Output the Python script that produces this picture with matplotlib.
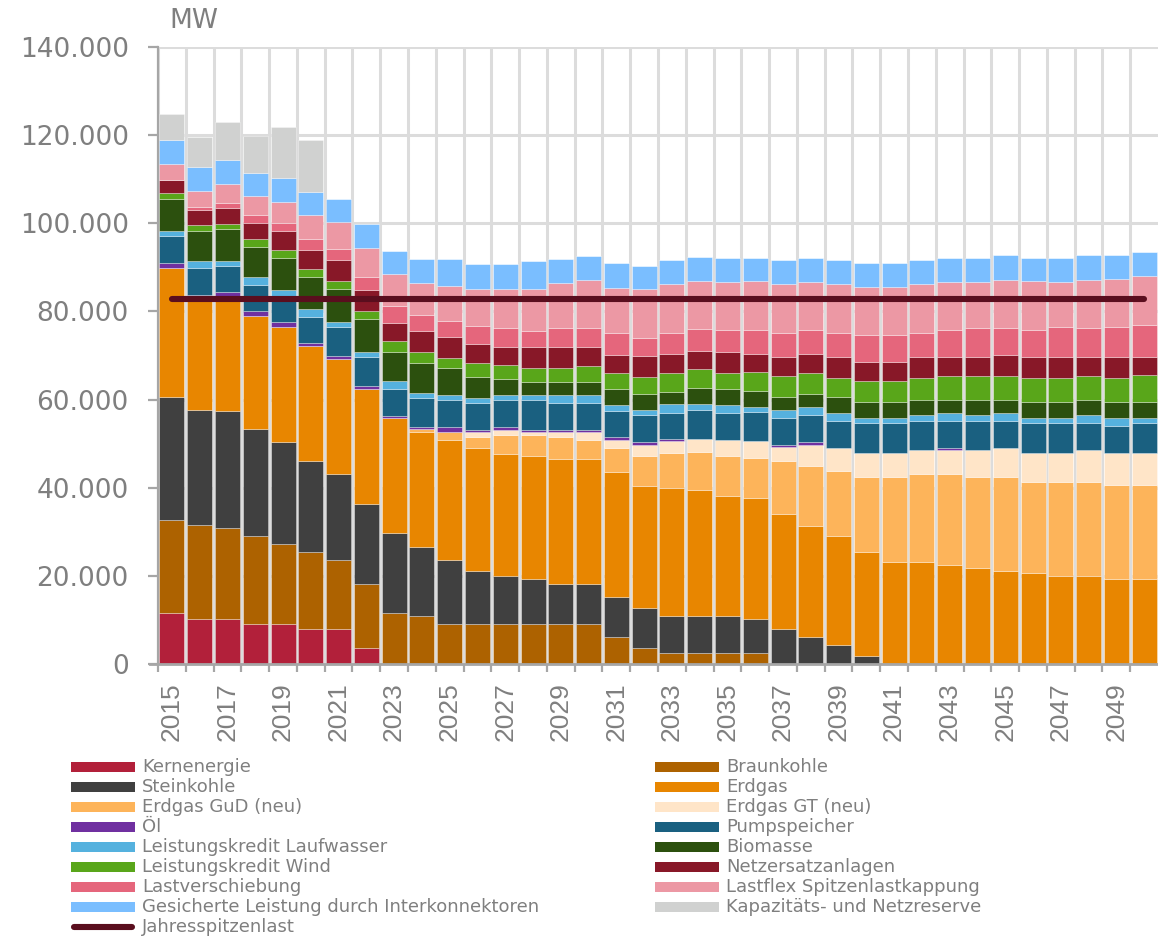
import matplotlib
matplotlib.use("Agg")
import matplotlib.pyplot as plt
from matplotlib.patches import Rectangle
from matplotlib.ticker import FuncFormatter, MultipleLocator, FixedLocator
import numpy as np

plt.rcParams['font.family'] = ['Liberation Sans', 'DejaVu Sans']
# the reference text is rather wide, DejaVu comes closer for the legend and y labels
wide_font = ['DejaVu Sans']

# Years on the x axis
years = list(range(2015, 2051))

# Secured capacity per technology in MW (stack order, bottom to top)
kernenergie = [11600, 10300, 10300, 9100, 9100, 8000, 8000, 3600, 0, 0, 0, 0,
               0, 0, 0, 0, 0, 0, 0, 0, 0, 0, 0, 0,
               0, 0, 0, 0, 0, 0, 0, 0, 0, 0, 0, 0]
braunkohle = [21100, 21300, 20600, 20000, 18200, 17500, 15700, 14600, 11600, 10900, 9100, 9100,
              9100, 9100, 9100, 9100, 6200, 3700, 2500, 2500, 2500, 2500, 0, 0,
              0, 0, 0, 0, 0, 0, 0, 0, 0, 0, 0, 0]
steinkohle = [27900, 26000, 26600, 24300, 23000, 20600, 19400, 18100, 18100, 15700, 14500, 12000,
              10800, 10300, 9000, 9000, 9000, 9000, 8400, 8400, 8400, 7800, 7900, 6100,
              4300, 1900, 0, 0, 0, 0, 0, 0, 0, 0, 0, 0]
erdgas = [29200, 25700, 26000, 25500, 26100, 26100, 26100, 26100, 26100, 26000, 27200, 27900,
          27800, 27800, 28500, 28500, 28400, 27800, 29100, 28600, 27300, 27400, 26100, 25300,
          24700, 23500, 23100, 23100, 22400, 21700, 21200, 20600, 20000, 20000, 19400, 19400]
erdgas_gud = [0, 0, 0, 0, 0, 0, 0, 0, 0, 700, 1800, 2400,
              4300, 4800, 4800, 4200, 5500, 6800, 7900, 8500, 9100, 9100, 12100, 13500,
              14700, 17000, 19300, 19900, 20600, 20700, 21200, 20600, 21200, 21200, 21200, 21200]
erdgas_gt = [0, 0, 0, 0, 0, 0, 0, 0, 0, 0, 0, 1200,
             1200, 600, 1200, 1800, 1800, 2500, 2600, 3000, 3600, 3700, 3100, 4900,
             5400, 5500, 5500, 5500, 5500, 6100, 6700, 6700, 6700, 7300, 7300, 7300]
oel = [1200, 400, 800, 1200, 1200, 600, 600, 600, 500, 500, 1200, 600,
       600, 600, 600, 600, 600, 600, 500, 0, 0, 0, 600, 600,
       0, 0, 0, 0, 600, 0, 0, 0, 0, 0, 0, 0]
pumpspeicher = [6100, 6100, 5900, 6000, 6000, 6000, 6700, 6700, 6100, 6600, 6000, 6000,
                6000, 6600, 6000, 6000, 6000, 6100, 6000, 6700, 6000, 6600, 6000, 6000,
                6100, 6700, 6700, 6700, 6100, 6700, 6100, 6700, 6700, 6100, 6000, 6700]
laufwasser = [1200, 1700, 1200, 1800, 1200, 1800, 1200, 1200, 1800, 1200, 1300, 1200,
              1300, 1300, 1900, 1900, 1300, 1200, 1900, 1300, 1900, 1300, 1900, 1900,
              1800, 1300, 1300, 1200, 1800, 1200, 1800, 1300, 1300, 1800, 1900, 1300]
biomasse = [7300, 6800, 7400, 6700, 7300, 7300, 7300, 7300, 6700, 6700, 6000, 4800,
            3600, 2900, 2900, 2900, 3600, 3600, 2900, 3600, 3600, 3500, 2900, 2900,
            3600, 3500, 3500, 3600, 3000, 3600, 3000, 3500, 3500, 3600, 3600, 3600]
wind = [1200, 1200, 1100, 1800, 1800, 1800, 1800, 1800, 2400, 2400, 2400, 3100,
        3100, 3100, 3100, 3700, 3600, 3800, 4300, 4300, 3700, 4300, 4800, 4900,
        4400, 4900, 4900, 5000, 5400, 5400, 5400, 5600, 5600, 5400, 5600, 6000]
netzersatz = [3100, 3600, 3600, 3600, 4300, 4200, 4900, 4800, 4100, 4800, 4800, 4200,
              4100, 4800, 4800, 4200, 4200, 4700, 4200, 4200, 4800, 4200, 4300, 4200,
              4700, 4200, 4200, 4700, 4200, 4200, 4800, 4700, 4700, 4200, 4700, 4200]
lastverschiebung = [0, 600, 1200, 1800, 1800, 2500, 2400, 3000, 3900, 3600, 3600, 4300,
                    4300, 3600, 4300, 4300, 4900, 4200, 4900, 4800, 4800, 5400, 5500, 5400,
                    5500, 6100, 6100, 5500, 6100, 6700, 6100, 6100, 6700, 6700, 6700, 7300]
lastflex = [3600, 3700, 4200, 4300, 4900, 5400, 6100, 6700, 7100, 7300, 7900, 8400,
            9000, 9700, 10300, 10900, 10300, 11000, 11000, 11000, 11000, 11000, 11000, 11000,
            11000, 10900, 10900, 11000, 11000, 10300, 10900, 11000, 10300, 10900, 10900, 11000]
interkonnektoren = [5500, 5400, 5500, 5400, 5400, 5400, 5400, 5400, 5400, 5500, 6000, 5600,
                    5600, 6200, 5500, 5500, 5500, 5400, 5400, 5400, 5400, 5400, 5400, 5400,
                    5400, 5400, 5400, 5400, 5400, 5500, 5500, 5400, 5500, 5500, 5500, 5400]
reserve = [5900, 6800, 8500, 8400, 11500, 11600, 0, 0, 0, 0, 0, 0,
           0, 0, 0, 0, 0, 0, 0, 0, 0, 0, 0, 0,
           0, 0, 0, 0, 0, 0, 0, 0, 0, 0, 0, 0]

# Annual peak load in MW
jahresspitzenlast = [82800, 82800, 82800, 82800, 82800, 82800, 82800, 82800, 82800, 82800, 82800, 82800,
                     82800, 82800, 82800, 82800, 82800, 82800, 82800, 82800, 82800, 82800, 82800, 82800,
                     82800, 82800, 82800, 82800, 82800, 82800, 82800, 82800, 82800, 82800, 82800, 82800]

series = [
    ("Kernenergie", kernenergie, "#B2203A"),
    ("Braunkohle", braunkohle, "#AD6200"),
    ("Steinkohle", steinkohle, "#404040"),
    ("Erdgas", erdgas, "#E88600"),
    ("Erdgas GuD (neu)", erdgas_gud, "#FDB45A"),
    ("Erdgas GT (neu)", erdgas_gt, "#FFE5C8"),
    ("Öl", oel, "#7030A0"),
    ("Pumpspeicher", pumpspeicher, "#1A6080"),
    ("Leistungskredit Laufwasser", laufwasser, "#55B1DE"),
    ("Biomasse", biomasse, "#2C500E"),
    ("Leistungskredit Wind", wind, "#59A61A"),
    ("Netzersatzanlagen", netzersatz, "#881828"),
    ("Lastverschiebung", lastverschiebung, "#E5667C"),
    ("Lastflex Spitzenlastkappung", lastflex, "#EC98A4"),
    ("Gesicherte Leistung durch Interkonnektoren", interkonnektoren, "#7ABEFF"),
    ("Kapazitäts- und Netzreserve", reserve, "#D0D1D0"),
]
peak_label = "Jahresspitzenlast"
peak_color = "#5A0E1E"

text_grey = "#7F7F7F"
grid_grey = "#DCDCDC"
axis_grey = "#A6A6A6"

W, H = 1158, 936
fig = plt.figure(figsize=(W / 100, H / 100), dpi=100)

# main plot area in pixel terms: x 158..1158, y 47..664
ax = fig.add_axes([158 / W, 1 - 664 / H, 1000 / W, 617 / H])

x = np.arange(len(years))
bottom = np.zeros(len(years))
for name, values, color in series:
    vals = np.array(values, dtype=float)
    ax.bar(x, vals, width=0.9, bottom=bottom, color=color,
           edgecolor=(1, 1, 1, 0.45), linewidth=0.5, zorder=2)
    bottom += vals

ax.plot(x, jahresspitzenlast, color=peak_color, linewidth=4.4,
        solid_capstyle="round", zorder=3)

ax.set_xlim(-0.5, len(years) - 0.5)
ax.set_ylim(0, 140000)

# grid: horizontal every 20.000, vertical between the bars
ax.yaxis.set_major_locator(MultipleLocator(20000))
ax.yaxis.set_major_formatter(FuncFormatter(lambda v, p: f"{v:,.0f}".replace(",", ".")))
ax.xaxis.set_major_locator(FixedLocator(x[::2]))
ax.set_xticklabels([str(y) for y in years[::2]], rotation=90)
ax.xaxis.set_minor_locator(FixedLocator(x - 0.5))
ax.grid(axis="y", which="major", color=grid_grey, linewidth=2.2, zorder=0)
ax.grid(axis="x", which="minor", color=grid_grey, linewidth=2.2, zorder=0)
ax.set_axisbelow(True)

for side in ["top", "right"]:
    ax.spines[side].set_visible(False)
ax.spines["left"].set_color(axis_grey)
ax.spines["left"].set_linewidth(1.6)
ax.spines["bottom"].set_color(axis_grey)
ax.spines["bottom"].set_linewidth(2.0)
ax.spines["bottom"].set_bounds(-0.8, len(years) - 0.5)

ax.tick_params(axis="y", which="major", length=7, width=1.6, color=axis_grey,
               labelsize=19, labelcolor=text_grey, pad=14)
for lbl in ax.get_yticklabels():
    lbl.set_family(wide_font)
ax.tick_params(axis="x", which="major", length=0, labelsize=19,
               labelcolor=text_grey, pad=13)
ax.tick_params(axis="x", which="minor", length=5.5, width=1.6, color=axis_grey)

fig.text(194 / W, 1 - 28 / H, "MW", ha="center", va="baseline",
         fontsize=19, color=text_grey, family=wide_font)

# legend drawn in pixel coordinates below the chart (two columns)
lax = fig.add_axes([0, 0, 1, 1])
lax.set_xlim(0, W)
lax.set_ylim(H, 0)
lax.set_axis_off()

col_x = [71, 655]
for i, (name, values, color) in enumerate(series):
    row = i // 2
    col = i % 2
    yc = 767 + 20 * row
    lax.add_patch(Rectangle((col_x[col], yc - 5), 64, 10, color=color, linewidth=0))
    lax.text(col_x[col] + 71, yc, name, ha="left", va="center",
             fontsize=13, color=text_grey, family=wide_font)

yc = 767 + 20 * 8
lax.plot([col_x[0] + 3, col_x[0] + 61], [yc, yc], color=peak_color,
         linewidth=4.4, solid_capstyle="round")
lax.text(col_x[0] + 71, yc, peak_label, ha="left", va="center",
         fontsize=13, color=text_grey, family=wide_font)

fig.savefig("out.png", dpi=100)
